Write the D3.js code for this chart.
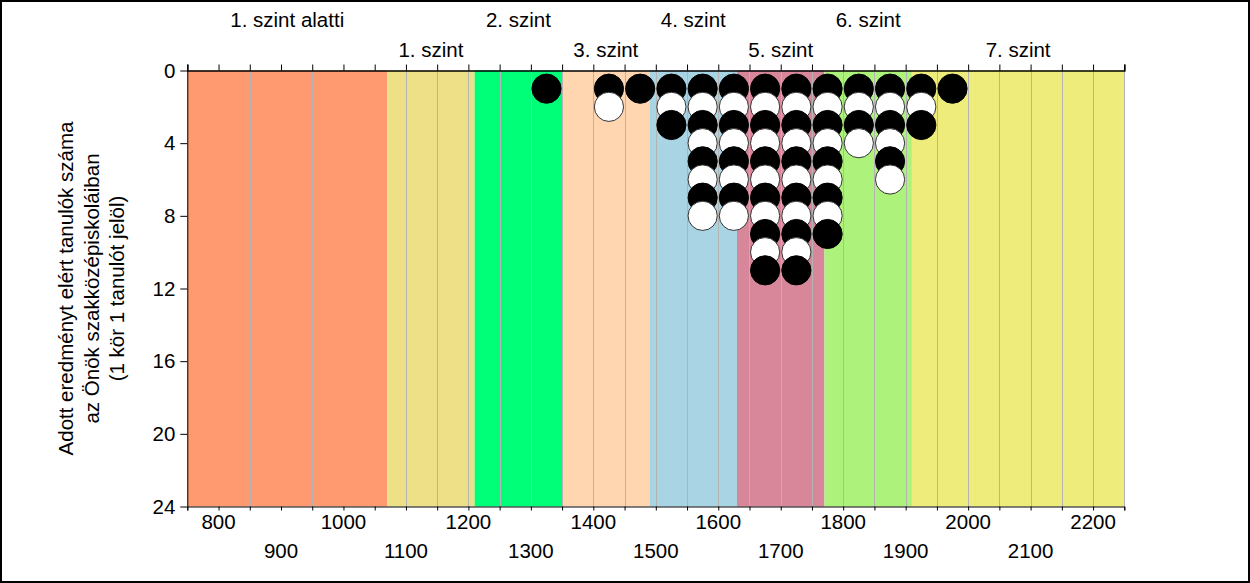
<!DOCTYPE html>
<html><head><meta charset="utf-8">
<script src="https://cdn.jsdelivr.net/npm/d3@7"></script>
<style>
html,body{margin:0;padding:0;background:#fff;}
svg{display:block;font-family:"Liberation Sans",Arial,sans-serif;}
</style></head>
<body>
<svg id="chart" width="1250" height="583"></svg>
<script>
const levelNames = ["1. szint alatti","1. szint","2. szint","3. szint","4. szint","5. szint","6. szint","7. szint"];
const levelBounds = [750,1070,1210,1350,1490,1630,1770,1910,2250];
const levelColors = ["#FF9A70","#EEE086","#00FF78","#FFD6B0","#A8D4E3","#D8879A","#ADF27B","#EEEC7B"];
const scoreBins = [1325,1425,1475,1525,1575,1625,1675,1725,1775,1825,1875,1925,1975];
const studentCounts = [1,2,1,3,8,8,11,11,9,4,6,3,1];
const xTickLabels = [800,900,1000,1100,1200,1300,1400,1500,1600,1700,1800,1900,2000,2100,2200];
const xMinorTicks = d3.range(750, 2251, 50);
const yTickLabels = [0,4,8,12,16,20,24];
const yTitle = ["Adott eredményt elért tanulók száma","az Önök szakközépiskoláiban","(1 kör 1 tanulót jelöl)"];

(function(){
const svg = d3.select("#chart");
const pL = 187.3, pR = 1124.3, pT = 70.5, pB = 506.5;
const x = d3.scaleLinear().domain([750,2250]).range([pL,pR]);
const y = d3.scaleLinear().domain([0,24]).range([pT,pB]);
const fs = 20.5;

svg.append("rect").attr("x",1).attr("y",1).attr("width",1248).attr("height",581)
  .attr("fill","#fff").attr("stroke","#000").attr("stroke-width",2);

// bands
const bands = levelNames.map((n,i)=>({name:n,x0:levelBounds[i],x1:levelBounds[i+1],color:levelColors[i],i}));
svg.append("g").selectAll("rect").data(bands).join("rect")
  .attr("x",d=>x(d.x0)).attr("y",pT).attr("width",d=>x(d.x1)-x(d.x0)).attr("height",pB-pT)
  .attr("fill",d=>d.color);

// gridlines
svg.append("g").selectAll("line").data(xMinorTicks.filter(v=>v>750)).join("line")
  .attr("x1",d=>Math.round(x(d))+0.5).attr("x2",d=>Math.round(x(d))+0.5)
  .attr("y1",pT).attr("y2",pB).attr("stroke","#B4B4B4").attr("stroke-width",1);

// band labels
svg.append("g").selectAll("text").data(bands).join("text")
  .attr("x",d=>(x(d.x0)+x(d.x1))/2).attr("y",d=>d.i%2===0?20:50)
  .attr("dy","0.35em").attr("text-anchor","middle").attr("font-size",fs).attr("fill","#000")
  .text(d=>d.name);

// top axis
const topAxis = d3.axisTop(x).tickValues(xMinorTicks).tickSize(6).tickFormat("");
const gt = svg.append("g").attr("transform",`translate(0,${pT})`).call(topAxis);
gt.select(".domain").attr("stroke","#000").attr("stroke-width",1.5);

// bottom axis (minor ticks)
const botAxis = d3.axisBottom(x).tickValues(xMinorTicks).tickSize(4).tickFormat("");
const gb = svg.append("g").attr("transform",`translate(0,${pB})`).call(botAxis);
gb.select(".domain").attr("stroke","#000");
// bottom labels (two rows)
svg.append("g").selectAll("text").data(xTickLabels).join("text")
  .attr("x",d=>x(d)).attr("y",(d,i)=>i%2===0?522:551)
  .attr("dy","0.35em").attr("text-anchor","middle").attr("font-size",fs).attr("fill","#000")
  .text(d=>d);

// left axis
const leftAxis = d3.axisLeft(y).tickValues(yTickLabels).tickSize(7).tickPadding(5).tickSizeOuter(0);
const gl = svg.append("g").attr("transform",`translate(${pL},0)`).call(leftAxis);
gl.selectAll("text").attr("font-size",fs).attr("font-family","Liberation Sans, Arial, sans-serif").attr("fill","#000");
gl.select(".domain").attr("stroke","#000");

// y title
const yt = svg.append("text").attr("transform",`translate(66,${(pT+pB)/2}) rotate(-90)`)
  .attr("text-anchor","middle").attr("font-size",fs).attr("fill","#000");
yt.selectAll("tspan").data(yTitle).join("tspan")
  .attr("x",0).attr("y",(d,i)=>i*25.5).attr("dy","0.35em").text(d=>d);

// dots
const dots = [];
scoreBins.forEach((s,i)=>{ for(let k=1;k<=studentCounts[i];k++) dots.push({s,k}); });
svg.append("g").selectAll("circle").data(dots).join("circle")
  .attr("cx",d=>x(d.s)).attr("cy",d=>y(d.k)).attr("r",14.6)
  .attr("fill",d=>d.k%2===1?"#000":"#fff")
  .attr("stroke",d=>d.k%2===1?"#000":"#333").attr("stroke-width",1);
})();
</script>
</body></html>
